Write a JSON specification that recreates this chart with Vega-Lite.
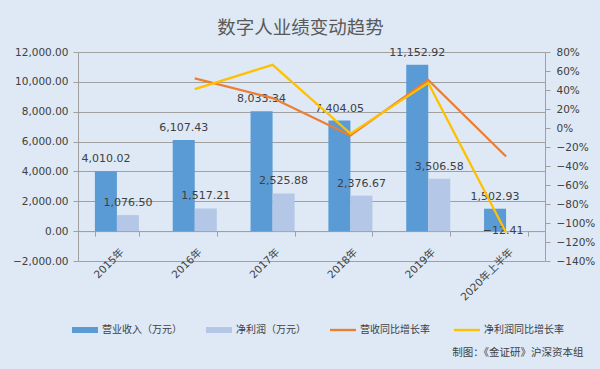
{
  "$schema": "https://vega.github.io/schema/vega-lite/v6.json",
  "autosize": {"type": "none"},
  "width": 467,
  "height": 209,
  "padding": {"left": 78, "top": 52, "right": 55, "bottom": 108},
  "background": "#dee9f5",
  "config": {
    "view": {"stroke": null},
    "font": "DejaVu Sans, Noto Sans CJK SC",
    "axis": {
      "labelFont": "DejaVu Sans, Noto Sans CJK SC",
      "labelFontSize": 10.5,
      "labelColor": "#404040",
      "domainColor": "#a0a0a0",
      "tickColor": "#a0a0a0",
      "gridColor": "#a0a0a0",
      "tickSize": 5
    }
  },
  "title": {
    "text": "数字人业绩变动趋势",
    "font": "Noto Sans CJK SC",
    "fontSize": 18.5,
    "fontWeight": "normal",
    "color": "#595959",
    "offset": 9,
    "dx": -11
  },
  "datasets": {
    "bars": [
      {"year": "2015年", "series": "营业收入（万元）", "value": 4010.02},
      {"year": "2015年", "series": "净利润（万元）", "value": 1076.50},
      {"year": "2016年", "series": "营业收入（万元）", "value": 6107.43},
      {"year": "2016年", "series": "净利润（万元）", "value": 1517.21},
      {"year": "2017年", "series": "营业收入（万元）", "value": 8033.34},
      {"year": "2017年", "series": "净利润（万元）", "value": 2525.88},
      {"year": "2018年", "series": "营业收入（万元）", "value": 7404.05},
      {"year": "2018年", "series": "净利润（万元）", "value": 2376.67},
      {"year": "2019年", "series": "营业收入（万元）", "value": 11152.92},
      {"year": "2019年", "series": "净利润（万元）", "value": 3506.58},
      {"year": "2020年上半年", "series": "营业收入（万元）", "value": 1502.93},
      {"year": "2020年上半年", "series": "净利润（万元）", "value": -12.41}
    ],
    "lines": [
      {"year": "2016年", "series": "营收同比增长率", "rate": 0.523},
      {"year": "2017年", "series": "营收同比增长率", "rate": 0.315},
      {"year": "2018年", "series": "营收同比增长率", "rate": -0.078},
      {"year": "2019年", "series": "营收同比增长率", "rate": 0.506},
      {"year": "2020年上半年", "series": "营收同比增长率", "rate": -0.30},
      {"year": "2016年", "series": "净利润同比增长率", "rate": 0.409},
      {"year": "2017年", "series": "净利润同比增长率", "rate": 0.665},
      {"year": "2018年", "series": "净利润同比增长率", "rate": -0.059},
      {"year": "2019年", "series": "净利润同比增长率", "rate": 0.475},
      {"year": "2020年上半年", "series": "净利润同比增长率", "rate": -1.10}
    ]
  },
  "encoding": {
    "x": {
      "field": "year",
      "type": "nominal",
      "scale": {
        "domain": ["2015年", "2016年", "2017年", "2018年", "2019年", "2020年上半年"],
        "paddingInner": 0.434,
        "paddingOuter": 0.217
      },
      "axis": {
        "title": "制图：《金证研》沪深资本组",
        "offset": -29.9,
        "tickBand": "extent",
        "labelAngle": -45,
        "labelAlign": "right",
        "labelBaseline": "middle",
        "labelPadding": 14,
        "labelOffset": 5,
        "titleFont": "Noto Sans CJK SC",
        "titleFontSize": 10.5,
        "titleFontWeight": "normal",
        "titleColor": "#404040",
        "titleAnchor": "start",
        "titleAlign": "right",
        "titleBaseline": "middle",
        "titleX": 505,
        "titleY": 121
      }
    }
  },
  "layer": [
    {
      "data": {"name": "bars"},
      "encoding": {
        "xOffset": {
          "field": "series",
          "type": "nominal",
          "scale": {"domain": ["营业收入（万元）", "净利润（万元）"], "paddingInner": 0, "paddingOuter": 0}
        },
        "y": {
          "field": "value",
          "type": "quantitative",
          "scale": {"domain": [-2000, 12000], "nice": false, "zero": false},
          "axis": {
            "title": null,
            "values": [-2000, 0, 2000, 4000, 6000, 8000, 10000, 12000],
            "format": ",.2f",
            "grid": true,
            "labelPadding": 5
          }
        }
      },
      "layer": [
        {
          "mark": {"type": "bar"},
          "encoding": {
            "color": {
              "field": "series",
              "type": "nominal",
              "scale": {
                "domain": ["营业收入（万元）", "净利润（万元）", "营收同比增长率", "净利润同比增长率"],
                "range": ["#5b9bd5", "#b4c7e7", "#ed7d31", "#ffc000"]
              },
              "legend": {
                "orient": "none",
                "direction": "horizontal",
                "legendX": -6,
                "legendY": 265,
                "title": null,
                "labelFont": "Noto Sans CJK SC",
                "labelFontSize": 10,
                "labelColor": "#404040",
                "labelOffset": 4,
                "columnPadding": 24,
                "symbolType": "M-1,-0.23H1V0.23H-1Z",
                "symbolSize": 676,
                "encode": {
                  "symbols": {
                    "update": {
                      "shape": {"signal": "indexof(['营业收入（万元）','净利润（万元）'], datum.value) >= 0 ? 'M-1,-0.23H1V0.23H-1Z' : 'M-1,-0.09H1V0.09H-1Z'"},
                      "fill": {"scale": "color", "field": "value"},
                      "stroke": {"value": "transparent"},
                      "strokeWidth": {"value": 0},
                      "opacity": {"value": 1}
                    }
                  }
                }
              }
            }
          }
        },
        {
          "transform": [{"filter": "datum.value >= 0"}],
          "mark": {"type": "text", "baseline": "alphabetic", "dy": -9, "fontSize": 11, "color": "#404040", "font": "DejaVu Sans"},
          "encoding": {"text": {"field": "value", "type": "quantitative", "format": ",.2f"}}
        },
        {
          "transform": [{"filter": "datum.value < 0"}],
          "mark": {"type": "text", "baseline": "middle", "dx": -14, "fontSize": 11, "color": "#404040", "font": "DejaVu Sans"},
          "encoding": {"text": {"field": "value", "type": "quantitative", "format": ",.2f"}}
        }
      ]
    },
    {
      "data": {"name": "lines"},
      "mark": {"type": "line", "strokeWidth": 2.25},
      "encoding": {
        "y": {
          "field": "rate",
          "type": "quantitative",
          "scale": {"domain": [-1.4, 0.8], "nice": false, "zero": false},
          "axis": {
            "orient": "right",
            "title": null,
            "values": [-1.4, -1.2, -1.0, -0.8, -0.6, -0.4, -0.2, 0, 0.2, 0.4, 0.6, 0.8],
            "format": ".0%",
            "grid": false,
            "labelPadding": 6
          }
        },
        "color": {"field": "series", "type": "nominal"}
      }
    }
  ],
  "resolve": {"scale": {"y": "independent"}}
}
